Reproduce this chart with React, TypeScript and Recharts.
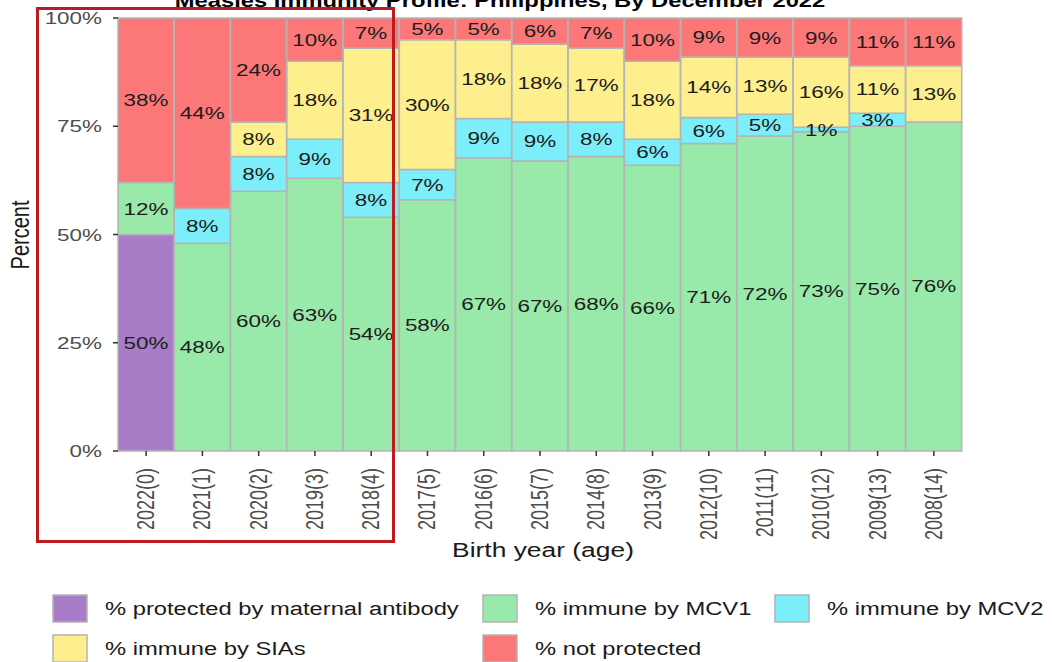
import { BarChart, Bar, XAxis, YAxis, LabelList } from 'recharts';

const categories = [
  '2022(0)', '2021(1)', '2020(2)', '2019(3)', '2018(4)', '2017(5)', '2016(6)', '2015(7)',
  '2014(8)', '2013(9)', '2012(10)', '2011(11)', '2010(12)', '2009(13)', '2008(14)',
];
const maternal = [50, 0, 0, 0, 0, 0, 0, 0, 0, 0, 0, 0, 0, 0, 0];
const mcv1 = [12, 48, 60, 63, 54, 58, 67, 67, 68, 66, 71, 72, 73, 75, 76];
const mcv2 = [0, 8, 8, 9, 8, 7, 9, 9, 8, 6, 6, 5, 1, 3, 0];
const sias = [0, 0, 8, 18, 31, 30, 18, 18, 17, 18, 14, 13, 16, 11, 13];
const notProtected = [38, 44, 24, 10, 7, 5, 5, 6, 7, 10, 9, 9, 9, 11, 11];

const yTicks = [0, 0.25, 0.5, 0.75, 1];

const series = [
  { key: 'maternal', name: '% protected by maternal antibody', color: '#a97cc8' },
  { key: 'mcv1', name: '% immune by MCV1', color: '#98e9aa' },
  { key: 'mcv2', name: '% immune by MCV2', color: '#7ceef9' },
  { key: 'sias', name: '% immune by SIAs', color: '#fdee8e' },
  { key: 'notProtected', name: '% not protected', color: '#fc7878' },
];

const data = categories.map((name, i) => ({
  name,
  maternal: maternal[i],
  mcv1: mcv1[i],
  mcv2: mcv2[i],
  sias: sias[i],
  notProtected: notProtected[i],
}));

const FONT = '"Liberation Sans", Arial, sans-serif';
const SX = 1.32; // the reference is stretched sideways

function YTick({ x, y, payload }: any) {
  return (
    <text
      transform={`translate(${x},${y}) scale(${SX},1)`}
      textAnchor="end"
      dy={6}
      fontSize={17}
      fontFamily={FONT}
      fill="#4d4d4d"
    >
      {`${Math.round(payload.value * 100)}%`}
    </text>
  );
}

function XTick({ x, y, payload }: any) {
  return (
    <text
      transform={`translate(${x + 8},${y}) rotate(-90) scale(1,${SX})`}
      textAnchor="end"
      fontSize={18}
      fontFamily={FONT}
      fill="#4d4d4d"
    >
      {payload.value}
    </text>
  );
}

function SegmentLabel(props: any) {
  const { x, y, width, height, value } = props;
  if (!value) return null;
  const cx = Number(x) + Number(width) / 2;
  const cy = Number(y) + Number(height) / 2;
  return (
    <text
      transform={`translate(${cx},${cy}) scale(${SX},1)`}
      textAnchor="middle"
      dy={6}
      fontSize={17}
      fontFamily={FONT}
      fill="#1c1c1c"
    >
      {`${value}%`}
    </text>
  );
}

const legendCols = [53, 483, 775];

export default function App() {
  return (
    <div style={{ position: 'absolute', left: 0, top: 0, width: 1052, height: 662, background: '#fff' }}>
      <BarChart
        width={1052}
        height={662}
        data={data}
        stackOffset="expand"
        barCategoryGap={0}
        margin={{ top: 18, right: 90, bottom: 0, left: 0 }}
      >
        <XAxis
          dataKey="name"
          height={211}
          interval={0}
          axisLine={false}
          tickSize={5}
          tickMargin={12}
          tickLine={{ stroke: '#333', strokeWidth: 1.5 }}
          tick={<XTick />}
        />
        <YAxis
          width={118}
          domain={[0, 1]}
          ticks={yTicks}
          axisLine={false}
          tickSize={5}
          tickMargin={11}
          tickLine={{ stroke: '#333', strokeWidth: 1.5 }}
          tick={<YTick />}
        />
        {series.map((s) => (
          <Bar
            key={s.key}
            dataKey={s.key}
            name={s.name}
            stackId="a"
            fill={s.color}
            stroke="#b4b4b4"
            strokeWidth={1.5}
            isAnimationActive={false}
          >
            <LabelList dataKey={s.key} content={SegmentLabel} />
          </Bar>
        ))}
      </BarChart>

      <svg
        width={1052}
        height={662}
        style={{ position: 'absolute', left: 0, top: 0, pointerEvents: 'none' }}
        fontFamily={FONT}
      >
        <text transform={`translate(500,7) scale(${SX},1)`} textAnchor="middle" fontSize={18} fontWeight="bold" fill="#000">
          Measles Immunity Profile: Philippines, By December 2022
        </text>
        <text transform={`translate(29,235) rotate(-90) scale(1,${SX})`} textAnchor="middle" fontSize={20} fill="#1a1a1a">
          Percent
        </text>
        <text transform={`translate(543,557) scale(${SX},1)`} textAnchor="middle" fontSize={20} fill="#1a1a1a">
          Birth year (age)
        </text>
        <rect x={37.5} y={8.5} width={356} height={533} fill="none" stroke="#bf1a1f" strokeWidth={3} />
        {series.map((s, i) => {
          const col = i < 3 ? i : i - 3;
          const row = i < 3 ? 0 : 1;
          const lx = legendCols[col];
          const ly = 595 + row * 40;
          return (
            <g key={s.key}>
              <rect x={lx} y={ly} width={34} height={27} fill={s.color} stroke="#b4b4b4" strokeWidth={1.5} />
              <text
                transform={`translate(${lx + 52},${ly + 20}) scale(${SX},1)`}
                fontSize={18}
                fill="#1a1a1a"
              >
                {s.name}
              </text>
            </g>
          );
        })}
      </svg>
    </div>
  );
}
